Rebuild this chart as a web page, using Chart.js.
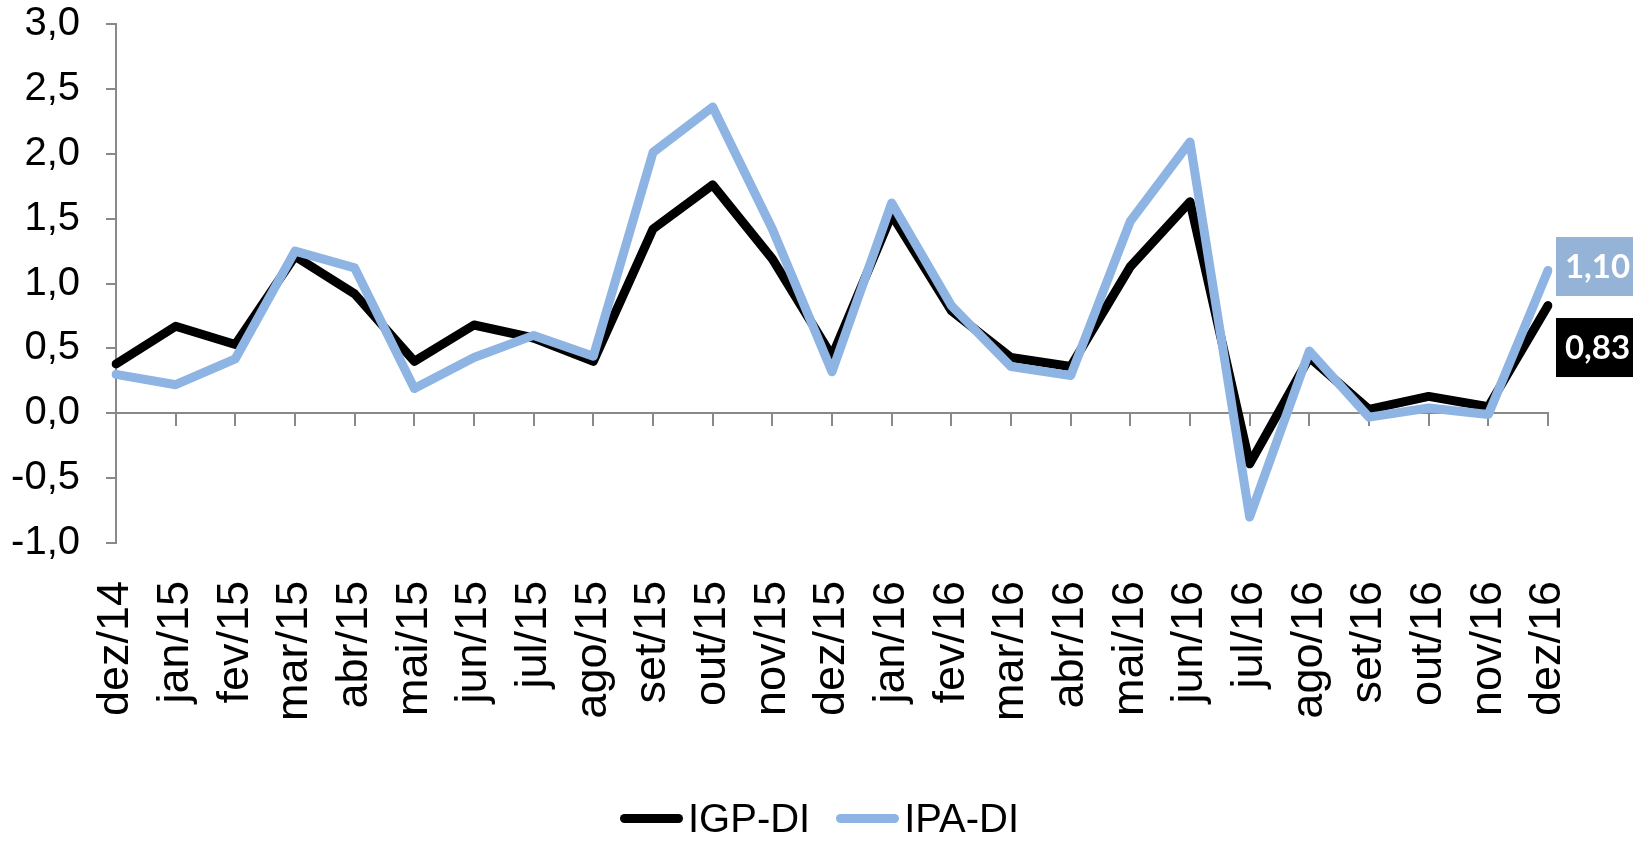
<!DOCTYPE html>
<html lang="pt-BR">
<head>
<meta charset="utf-8">
<title>IGP-DI x IPA-DI</title>
<script src="https://cdn.jsdelivr.net/npm/chart.js@4.4.1/dist/chart.umd.min.js"></script>
<style>
  html, body { margin: 0; padding: 0; background: #fff; }
  #wrap { position: relative; width: 1640px; height: 841px; }
  #legend {
    position: absolute; left: 620px; top: 796px;
    display: flex; align-items: center;
    font-family: "Liberation Sans", Arial, sans-serif; font-size: 40px; line-height: 44px; color: #000;
  }
  #legend .item { display: flex; align-items: center; margin-right: 26px; }
  #legend .sw { display: inline-block; width: 63px; height: 9px; border-radius: 5px; margin-right: 5px; }
</style>
</head>
<body>
<div id="wrap">
  <canvas id="chart" width="1640" height="841"></canvas>
  <div id="legend">
    <span class="item"><span class="sw" style="background:#000"></span>IGP-DI</span>
    <span class="item"><span class="sw" style="background:#8DB4E2"></span>IPA-DI</span>
  </div>
</div>
<script>
// dados mensais (% a.m.)
const months = ['dez/14', 'jan/15', 'fev/15', 'mar/15', 'abr/15', 'mai/15', 'jun/15', 'jul/15', 'ago/15',
  'set/15', 'out/15', 'nov/15', 'dez/15', 'jan/16', 'fev/16', 'mar/16', 'abr/16', 'mai/16', 'jun/16',
  'jul/16', 'ago/16', 'set/16', 'out/16', 'nov/16', 'dez/16'];
const igpDi = [0.38, 0.67, 0.53, 1.21, 0.92, 0.40, 0.68, 0.58, 0.40, 1.42, 1.76, 1.19, 0.44,
  1.53, 0.79, 0.43, 0.36, 1.13, 1.63, -0.39, 0.43, 0.03, 0.13, 0.05, 0.83];
const ipaDi = [0.30, 0.22, 0.42, 1.25, 1.12, 0.19, 0.43, 0.60, 0.44, 2.01, 2.36, 1.42, 0.32,
  1.62, 0.83, 0.36, 0.29, 1.48, 2.09, -0.80, 0.48, -0.03, 0.04, -0.01, 1.10];
const yMin = -1, yMax = 3, yStep = 0.5;

const axisGray = '#898989';
const fmt = (v, d) => v.toFixed(d).replace('.', ',');

// caixinhas com o ultimo valor de cada serie
const endLabels = {
  id: 'endLabels',
  afterDatasetsDraw(chart) {
    const ctx = chart.ctx;
    const h = 59, w = 77, gap = 22;
    const items = chart.data.datasets.map((ds, i) => {
      const pts = chart.getDatasetMeta(i).data;
      const p = pts[pts.length - 1];
      return { ds, x: p.x, y: p.y, v: ds.data[ds.data.length - 1] };
    }).sort((a, b) => a.y - b.y);
    let prevBottom = -Infinity;
    ctx.save();
    items.forEach(it => {
      const top = Math.max(it.y - h / 2 - 4, prevBottom + gap);
      const left = it.x + 8;
      ctx.fillStyle = it.ds.labelBg;
      ctx.fillRect(left, top, w, h);
      ctx.fillStyle = '#fff';
      ctx.font = 'bold 33px Lato, "Liberation Sans", sans-serif';
      ctx.textAlign = 'center';
      ctx.textBaseline = 'middle';
      ctx.fillText(fmt(it.v, 2), left + w / 2 + 3, top + h / 2 + 1);
      prevBottom = top + h;
    });
    ctx.restore();
  }
};

const chart = new Chart(document.getElementById('chart'), {
  type: 'line',
  data: {
    labels: months,
    datasets: [
      {
        label: 'IGP-DI', data: igpDi, borderColor: '#000', backgroundColor: '#000',
        borderWidth: 9, pointRadius: 0, tension: 0, borderJoinStyle: 'round', borderCapStyle: 'round',
        order: 1, labelBg: '#000'
      },
      {
        label: 'IPA-DI', data: ipaDi, borderColor: '#8DB4E2', backgroundColor: '#8DB4E2',
        borderWidth: 9, pointRadius: 0, tension: 0, borderJoinStyle: 'round', borderCapStyle: 'round',
        order: 0, labelBg: '#95B3D7'
      }
    ]
  },
  options: {
    responsive: false,
    animation: false,
    layout: { padding: { left: 0, right: 92, top: 24, bottom: 134 } },
    plugins: { legend: { display: false }, tooltip: { enabled: false } },
    scales: {
      x: {
        position: 'bottom',
        grid: { display: false },
        border: { display: false },
        ticks: {
          autoSkip: false, minRotation: 90, maxRotation: 90, padding: 30, color: '#000',
          font: { family: '"Liberation Sans", Arial, sans-serif', size: 45 }
        }
      },
      xZero: {
        type: 'category',
        labels: months,
        position: { y: 0 },
        grid: { display: true, drawOnChartArea: false, drawTicks: true, tickLength: 12, color: axisGray, lineWidth: 2 },
        border: { display: true, color: axisGray, width: 2 },
        ticks: { display: false }
      },
      y: {
        min: yMin, max: yMax,
        ticks: {
          stepSize: yStep, padding: 26, color: '#000',
          callback: v => fmt(v, 1),
          font: { family: '"Liberation Sans", Arial, sans-serif', size: 40 }
        },
        grid: { drawOnChartArea: false, tickLength: 10, color: axisGray, lineWidth: 2 },
        border: { color: axisGray, width: 2 },
        afterFit: s => { s.width = 116; s.paddingTop = 0; s.paddingBottom = 0; }
      }
    }
  },
  plugins: [endLabels]
});

// ajusta a area do grafico para a mesma posicao do original
const target = { top: 24, bottom: 543, right: 1548 };
for (let i = 0; i < 3; i++) {
  const ca = chart.chartArea;
  const pad = chart.options.layout.padding;
  pad.top += target.top - ca.top;
  pad.bottom += ca.bottom - target.bottom;
  pad.right += ca.right - target.right;
  chart.update();
}
</script>
</body>
</html>
